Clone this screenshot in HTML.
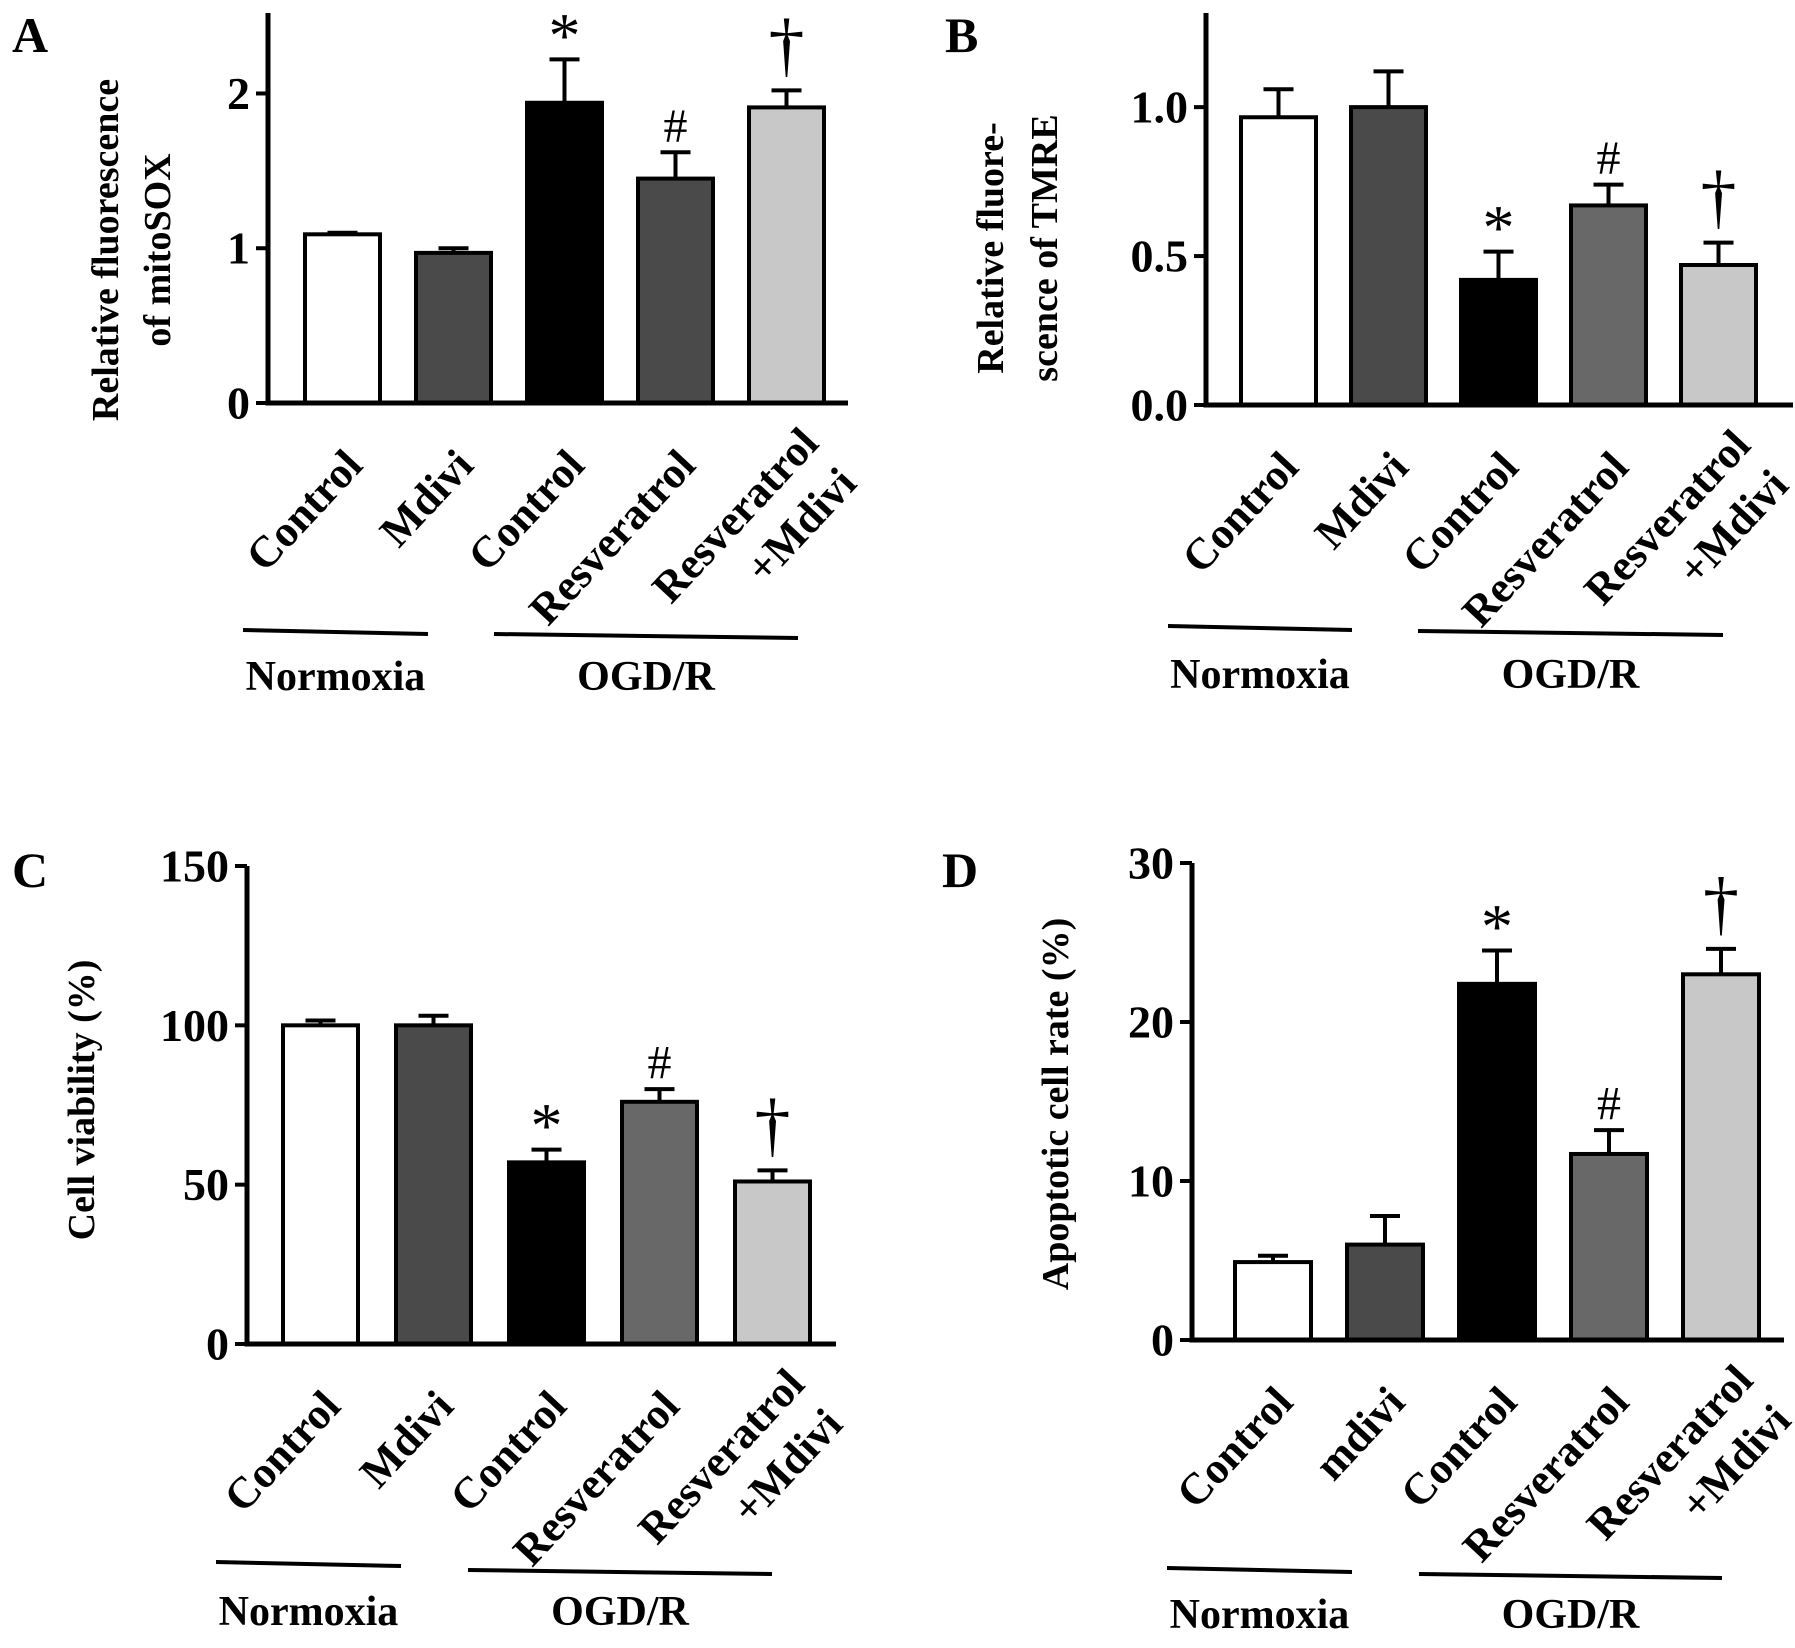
<!DOCTYPE html>
<html><head><meta charset="utf-8">
<style>
html,body{margin:0;padding:0;background:#fff;}
svg{display:block;font-family:"Liberation Serif",serif;font-weight:bold;}
</style></head>
<body>
<svg id="fig" width="1795" height="1648" viewBox="0 0 1795 1648" xmlns="http://www.w3.org/2000/svg"></svg>
<script>
// ---------- data ----------
const categoriesA = ["Control","Mdivi","Control","Resveratrol","Resveratrol|+Mdivi"];
const valuesA = [1.09, 0.97, 1.94, 1.45, 1.91];
const errorsA = [1.10, 1.00, 2.22, 1.62, 2.02];
const ticksA = [0, 1, 2];
const tickLabelsA = ["0","1","2"];
const marksA = ["", "", "*", "#", "†"];

const categoriesB = ["Control","Mdivi","Control","Resveratrol","Resveratrol|+Mdivi"];
const valuesB = [0.966, 1.00, 0.42, 0.67, 0.47];
const errorsB = [1.06, 1.12, 0.515, 0.74, 0.545];
const ticksB = [0, 0.5, 1.0];
const tickLabelsB = ["0.0","0.5","1.0"];
const marksB = ["", "", "*", "#", "†"];

const categoriesC = ["Control","Mdivi","Control","Resveratrol","Resveratrol|+Mdivi"];
const valuesC = [100, 100, 57, 76, 51];
const errorsC = [101.5, 103, 61, 80, 54.5];
const ticksC = [0, 50, 100, 150];
const tickLabelsC = ["0","50","100","150"];
const marksC = ["", "", "*", "#", "†"];

const categoriesD = ["Control","mdivi","Control","Resveratrol","Resveratrol|+Mdivi"];
const valuesD = [4.9, 6.0, 22.4, 11.7, 23.0];
const errorsD = [5.3, 7.8, 24.5, 13.2, 24.6];
const ticksD = [0, 10, 20, 30];
const tickLabelsD = ["0","10","20","30"];
const marksD = ["", "", "*", "#", "†"];

const groupLabels = ["Normoxia","OGD/R"];

// ---------- layout ----------
const NS = "http://www.w3.org/2000/svg";
const svg = document.getElementById("fig");
function mk(tag, attrs, parent){
  const e = document.createElementNS(NS, tag);
  for (const k in attrs) e.setAttribute(k, attrs[k]);
  (parent||svg).appendChild(e);
  return e;
}

const panels = [
  {id:"a", letter:"A", lx:12, ly:52, cats:categoriesA, vals:valuesA, errs:errorsA, ticks:ticksA, tl:tickLabelsA, marks:marksA,
   axisX:268, zeroY:403, topY:13, yMax:2.52, x0:305, step:111, bw:75, axisEnd:848,
   fills:["#ffffff","#4a4a4a","#000000","#4a4a4a","#c8c8c8"],
   title:["Relative fluorescence","of mitoSOX"], titleX:[106,158], titleY:250,
   n1:[243,428,630], n2:[494,798,634], groupY:690},
  {id:"b", letter:"B", lx:945, ly:52, cats:categoriesB, vals:valuesB, errs:errorsB, ticks:ticksB, tl:tickLabelsB, marks:marksB,
   axisX:1206, zeroY:405, topY:13, yMax:1.316, x0:1241, step:110, bw:75, axisEnd:1793,
   fills:["#ffffff","#4a4a4a","#000000","#686868","#c8c8c8"],
   title:["Relative fluore-","scence of TMRE"], titleX:[991,1045], titleY:248,
   n1:[1168,1352,626], n2:[1418,1723,631], groupY:688},
  {id:"c", letter:"C", lx:12, ly:887, cats:categoriesC, vals:valuesC, errs:errorsC, ticks:ticksC, tl:tickLabelsC, marks:marksC,
   axisX:247, zeroY:1344, topY:866, yMax:150, x0:283, step:113, bw:75, axisEnd:836,
   fills:["#ffffff","#4a4a4a","#000000","#686868","#c8c8c8"],
   title:["Cell viability (%)"], titleX:[82], titleY:1100,
   n1:[216,401,1562], n2:[468,772,1570], groupY:1625},
  {id:"d", letter:"D", lx:942, ly:887, cats:categoriesD, vals:valuesD, errs:errorsD, ticks:ticksD, tl:tickLabelsD, marks:marksD,
   axisX:1192, zeroY:1340, topY:863, yMax:30, x0:1235, step:112, bw:76, axisEnd:1784,
   fills:["#ffffff","#4a4a4a","#000000","#686868","#c8c8c8"],
   title:["Apoptotic cell rate (%)"], titleX:[1056], titleY:1104,
   n1:[1167,1352,1568], n2:[1419,1722,1574], groupY:1628}
];

panels.forEach(p => {
  const g = mk("g", {});
  
  
  const yScale = v => p.zeroY - (v / p.yMax) * (p.zeroY - p.topY);

  const letter = mk("text", {x:p.lx, y:p.ly, "font-size":50}, g);
  letter.textContent = p.letter;
  
  

  p.title.forEach((t, i) => {
    const tt = mk("text", {x:p.titleX[i], y:p.titleY, "font-size":38, "text-anchor":"middle", "dominant-baseline":"central",
      transform:`rotate(-90 ${p.titleX[i]} ${p.titleY})`}, g);
    tt.textContent = t;
    
    
  });

  p.vals.forEach((v, i) => {
    const x = p.x0 + i * p.step;
    const cx = x + p.bw / 2;
    const yTop = yScale(v);
    const yErr = yScale(p.errs[i]);
    const eb = mk("path", {d:`M${cx} ${yTop} V${yErr} M${cx-15} ${yErr} H${cx+15}`, stroke:"#000", "stroke-width":4, fill:"none"}, g);
    
    
    const r = mk("rect", {x:x, y:yTop, width:p.bw, height:p.zeroY - yTop, fill:p.fills[i], stroke:"#000", "stroke-width":4}, g);
    
    
    const m = p.marks[i];
    if (m) {
      let off = m === "*" ? 24 : (m === "#" ? 26 : 46);
      let fs = m === "†" ? 72 : (m === "*" ? 64 : 48);
      const mt = mk("text", {x:cx, y:yErr - off, "font-size":fs, "font-weight":"normal", "text-anchor":"middle", "dominant-baseline":"central"}, g);
      mt.textContent = m;
      
      
    }
    const lines = p.cats[i].split("|");
    lines.forEach((ln, j) => {
      let ax, ay;
      if (lines.length === 1) { ax = cx + 22; ay = p.zeroY + 64; }
      else { ax = cx + 34 + j * 38; ay = p.zeroY + 42 + j * 40; }
      const ct = mk("text", {x:ax, y:ay, "font-size":44, "text-anchor":"end", transform:`rotate(-47 ${ax} ${ay})`}, g);
      ct.textContent = ln;
      
      
    });
  });

  const ax = mk("path", {d:`M${p.axisX} ${p.topY} V${p.zeroY} H${p.axisEnd}`, stroke:"#000", "stroke-width":5, fill:"none"}, g);
  
  
  p.ticks.forEach((t, i) => {
    const y = yScale(t);
    const tk = mk("line", {x1:p.axisX - 12, x2:p.axisX, y1:y, y2:y, stroke:"#000", "stroke-width":4}, g);
    
    
    const tl = mk("text", {x:p.axisX - 18, y:y, "font-size":46, "text-anchor":"end", "dominant-baseline":"central"}, g);
    tl.textContent = p.tl[i];
    
    
  });

  [p.n1, p.n2].forEach((n, k) => {
    const gl = mk("line", {x1:n[0], x2:n[1], y1:n[2], y2:n[2] + 4, stroke:"#000", "stroke-width":4}, g);
    
    
    const gt = mk("text", {x:(n[0] + n[1]) / 2, y:p.groupY, "font-size":42, "text-anchor":"middle"}, g);
    gt.textContent = groupLabels[k];
    
    
  });
});
</script>
</body></html>
